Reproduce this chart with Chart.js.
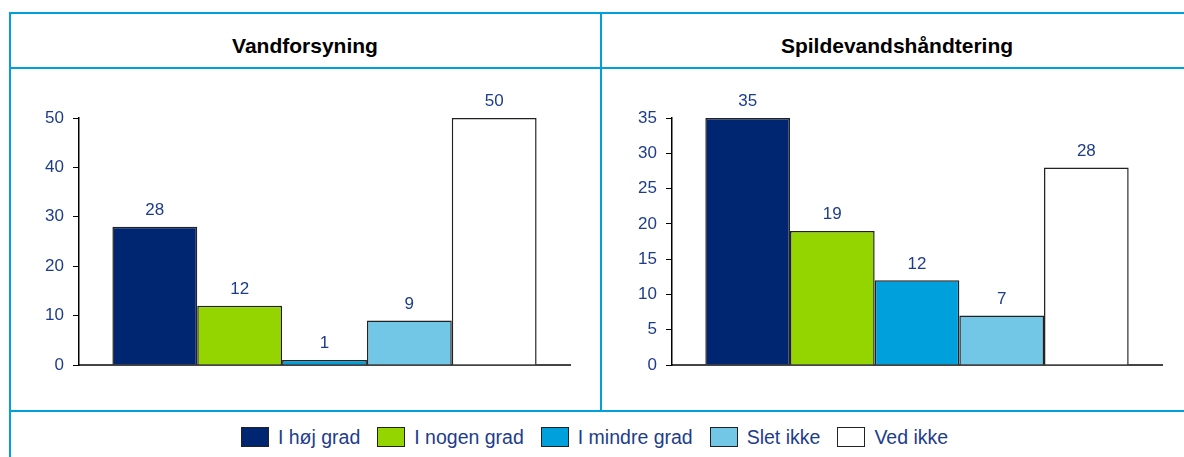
<!DOCTYPE html>
<html lang="da">
<head>
<meta charset="utf-8">
<title>Vandforsyning og spildevandshåndtering</title>
<script src="https://cdn.jsdelivr.net/npm/chart.js@4/dist/chart.umd.min.js"></script>
<style>
  html, body { margin: 0; padding: 0; background: #fff; }
  body { width: 1184px; height: 457px; overflow: hidden; position: relative;
         font-family: "Liberation Sans", Arial, sans-serif; }
  .rule { position: absolute; background: #00a0dc; }
  .title { position: absolute; top: 35px; line-height: 21px; font-size: 21px; font-weight: bold;
           color: #000; text-align: center; }
  canvas { position: absolute; }
  #legend { position: absolute; left: 0; width: 1189px; top: 427px; height: 20px;
            display: flex; justify-content: center; align-items: center; }
  .item { display: flex; align-items: center; margin-right: 17px; color: #1e3c8c; font-size: 19.5px; }
  .item:last-child { margin-right: 0; }
  .box { width: 26px; height: 18px; border: 1px solid #222; margin-right: 9px; }
</style>
</head>
<body>
  <!-- frame lines -->
  <div class="rule" style="left:9px; top:12px; width:1175px; height:2px;"></div>
  <div class="rule" style="left:9px; top:67px; width:1175px; height:2px;"></div>
  <div class="rule" style="left:9px; top:410px; width:1175px; height:2px;"></div>
  <div class="rule" style="left:9px; top:12px; width:2px; height:445px;"></div>
  <div class="rule" style="left:600px; top:12px; width:2px; height:400px;"></div>

  <div class="title" style="left:10px; width:590px;">Vandforsyning</div>
  <div class="title" style="left:602px; width:590px;">Spildevandshåndtering</div>

  <canvas id="vand" width="588" height="339" style="left:11px; top:70px;"></canvas>
  <canvas id="spilde" width="582" height="339" style="left:602px; top:70px;"></canvas>

  <div id="legend"></div>

<script>
const categories = ['I høj grad', 'I nogen grad', 'I mindre grad', 'Slet ikke', 'Ved ikke'];
const vandforsyning = [28, 12, 1, 9, 50];
const spildevand = [35, 19, 12, 7, 28];
const vandMax = 50, vandStep = 10;
const spildeMax = 35, spildeStep = 5;

const colors = ['#002672', '#94d500', '#00a0dc', '#72c7e7', '#ffffff'];
const navy = '#1e3c8c';
const font = '"Liberation Sans", Arial, sans-serif';

// numbers above each bar
const valueLabels = {
  id: 'valueLabels',
  afterDatasetsDraw(chart) {
    const ctx = chart.ctx;
    ctx.save();
    ctx.font = '17px ' + font;
    ctx.fillStyle = navy;
    ctx.textAlign = 'center';
    ctx.textBaseline = 'bottom';
    chart.data.datasets.forEach((ds, i) => {
      const bar = chart.getDatasetMeta(i).data[0];
      ctx.fillText(ds.data[0], bar.x, bar.y - 8);
    });
    ctx.restore();
  }
};

function makeChart(id, values, max, step, axisWidth, padRight) {
  const datasets = categories.map((name, i) => ({
    label: name,
    data: [values[i]],
    backgroundColor: colors[i],
    borderColor: '#222',
    borderWidth: 1.5,
    barPercentage: 1,
    categoryPercentage: 0.864
  }));

  return new Chart(document.getElementById(id), {
    type: 'bar',
    data: { labels: [''], datasets: datasets },
    plugins: [valueLabels],
    options: {
      responsive: false,
      animation: false,
      layout: { padding: { top: 48, right: padRight, bottom: 44, left: 0 } },
      plugins: { legend: { display: false }, tooltip: { enabled: false } },
      scales: {
        x: {
          grid: { drawOnChartArea: false, drawTicks: false },
          border: { color: '#444', width: 2 },
          ticks: { display: false },
          afterFit: s => { s.height = 0; }
        },
        y: {
          min: 0,
          max: max,
          ticks: { stepSize: step, padding: 9, color: navy, font: { size: 17, family: font } },
          grid: { drawOnChartArea: false, tickLength: 6, color: '#000' },
          border: { color: '#000', width: 1.5 },
          afterFit: s => { s.width = axisWidth; }
        }
      }
    }
  });
}

makeChart('vand', vandforsyning, vandMax, vandStep, 68, 29);
makeChart('spilde', spildevand, spildeMax, spildeStep, 70, 22);

// shared legend under both panels
const legend = document.getElementById('legend');
categories.forEach((name, i) => {
  const item = document.createElement('div');
  item.className = 'item';
  const box = document.createElement('span');
  box.className = 'box';
  box.style.background = colors[i];
  item.appendChild(box);
  item.appendChild(document.createTextNode(name));
  legend.appendChild(item);
});
</script>
</body>
</html>
